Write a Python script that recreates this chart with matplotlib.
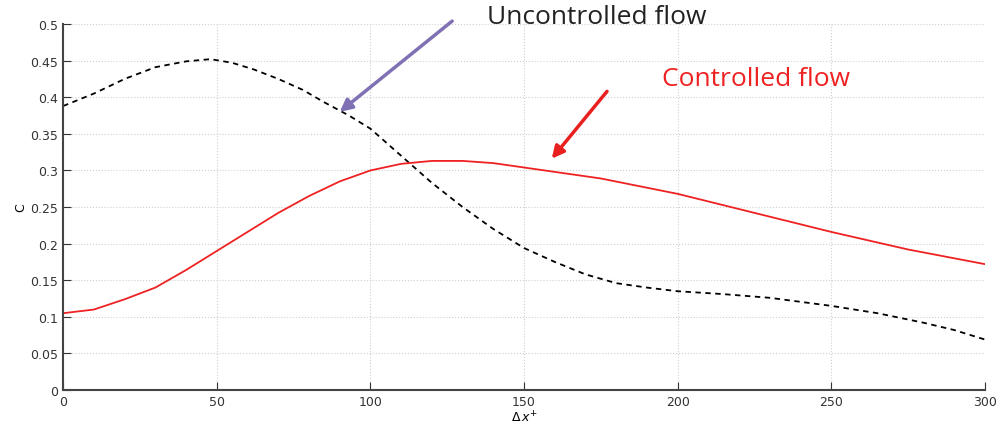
import matplotlib.pyplot as plt
import numpy as np

# Values
x_unc = [0, 10, 20, 30, 40, 48, 55, 62, 70, 78, 85, 93, 100, 110, 120, 130, 140, 150, 160, 170, 180, 190, 200, 215, 230, 250, 265, 280, 290, 300]
y_unc = [0.388, 0.405, 0.425, 0.441, 0.449, 0.452, 0.447, 0.438, 0.425, 0.41, 0.393, 0.375, 0.357, 0.32, 0.283, 0.25, 0.22, 0.194, 0.175, 0.158, 0.146, 0.14, 0.135, 0.131, 0.126, 0.115, 0.105, 0.092, 0.082, 0.069]

x_ctl = [0, 10, 20, 30, 40, 50, 60, 70, 80, 90, 100, 110, 120, 130, 140, 150, 175, 200, 225, 250, 275, 300]
y_ctl = [0.105, 0.11, 0.124, 0.14, 0.164, 0.19, 0.216, 0.242, 0.265, 0.285, 0.3, 0.309, 0.313, 0.313, 0.31, 0.304, 0.289, 0.268, 0.242, 0.216, 0.192, 0.172]

x_ticks = [0, 50, 100, 150, 200, 250, 300]
y_ticks = [0, 0.05, 0.1, 0.15, 0.2, 0.25, 0.3, 0.35, 0.4, 0.45, 0.5]

fig = plt.figure(figsize=(10.03, 4.35), dpi=100)
ax = fig.add_axes([0.063, 0.101, 0.919, 0.8415])

ax.plot(x_unc, y_unc, '--', color='black', lw=1.3, dashes=(3, 2.5))
ax.plot(x_ctl, y_ctl, '-', color='#ee2222', lw=1.3)

ax.set_xlim(0, 300)
ax.set_ylim(0, 0.5)
ax.set_xticks(x_ticks)
ax.set_yticks(y_ticks)
ax.set_xticklabels([str(v) for v in x_ticks])
ax.set_yticklabels(['0', '0.05', '0.1', '0.15', '0.2', '0.25', '0.3', '0.35', '0.4', '0.45', '0.5'])
ax.tick_params(direction='in', length=6, labelsize=9, colors='#333333')
ax.grid(True, linestyle=':', color='#d0d0d0', lw=0.8)
for side in ['top', 'right']:
    ax.spines[side].set_visible(False)
ax.spines['left'].set_color('#444444')
ax.spines['bottom'].set_color('#444444')
ax.spines['left'].set_linewidth(1.5)
ax.spines['bottom'].set_linewidth(1.5)

ax.set_xlabel(r'$\Delta\, x^{+}$', fontsize=9, labelpad=1)
ax.set_ylabel('C', fontsize=9, labelpad=2)

# Labels and arrows (drawn separately, as in the original slide)
ax.text(138, 0.51, 'Uncontrolled flow', fontsize=19, family='Open Sans',
        color='#222222', va='center', ha='left', clip_on=False)
ax.annotate('', xy=(90, 0.380), xytext=(126.6, 0.504), annotation_clip=False,
            arrowprops=dict(arrowstyle='-|>', color='#8070b4', lw=2.5,
                            mutation_scale=18, shrinkA=0, shrinkB=0))

ax.text(195, 0.425, 'Controlled flow', fontsize=19, family='Open Sans',
        color='#ee2222', va='center', ha='left')
ax.annotate('', xy=(159, 0.316), xytext=(177, 0.408), annotation_clip=False,
            arrowprops=dict(arrowstyle='-|>', color='#e82020', lw=2.5,
                            mutation_scale=18, shrinkA=0, shrinkB=0))

plt.savefig('out.png', dpi=100)
